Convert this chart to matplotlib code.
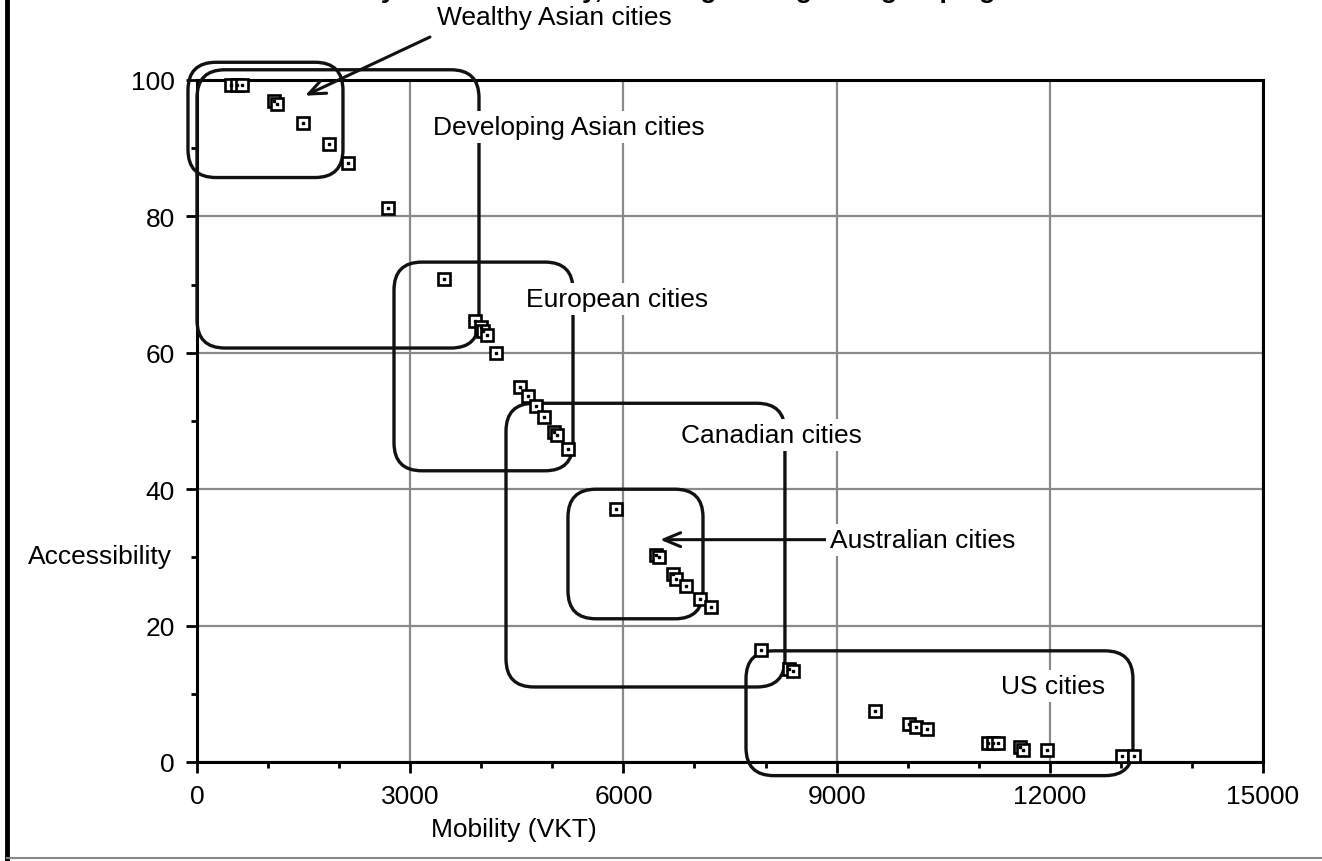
import matplotlib
matplotlib.use("Agg")
import matplotlib.pyplot as plt
from matplotlib.patches import FancyBboxPatch
from matplotlib.lines import Line2D

plt.rcParams['font.family'] = ['Liberation Sans', 'DejaVu Sans']

# data
mobility = [480, 560, 630, 1090, 1130, 1490, 1860, 2125, 2690, 3475,
            3910, 3990, 4030, 4080, 4210, 4545, 4660, 4770, 4880, 5020,
            5060, 5220, 5900, 6460, 6500, 6700, 6740, 6880, 7080, 7230,
            7940, 8330, 8390, 9540, 10020, 10120, 10270, 11130, 11200, 11270,
            11580, 11620, 11960, 13020, 13190]
accessibility = [99.2, 99.2, 99.2, 96.9, 96.5, 93.7, 90.6, 87.8, 81.2, 70.8,
                 64.7, 63.8, 63.2, 62.6, 60.0, 55.0, 53.7, 52.2, 50.6, 48.4,
                 48.0, 45.9, 37.1, 30.4, 30.0, 27.6, 26.8, 25.8, 23.9, 22.7,
                 16.4, 13.7, 13.4, 7.5, 5.6, 5.2, 4.8, 2.8, 2.8, 2.8,
                 2.2, 1.8, 1.8, 0.9, 0.9]

# region groupings: name, (x0, y0, x1, y1)
groups = ["Wealthy Asian cities", "Developing Asian cities", "European cities",
          "Canadian cities", "Australian cities", "US cities"]
group_boxes = [(-127, 85.7, 2054, 102.6),
               (0, 60.7, 3968, 101.5),
               (2772, 42.7, 5291, 73.3),
               (4348, 11.0, 8273, 52.6),
               (5220, 21.0, 7120, 40.0),
               (7725, -2.0, 13170, 16.3)]
group_label_pos = [(5023, 109.2), (5234, 93.1), (5910, 67.9),
                   (8077, 47.9), (9930, 32.6), (12045, 11.1)]

W, H = 1322, 862
fig = plt.figure(figsize=(W / 100, H / 100), dpi=100)
ax_l, ax_r, ax_t, ax_b = 197, 1263, 81, 763
ax = fig.add_axes([ax_l / W, 1 - ax_b / H, (ax_r - ax_l) / W, (ax_b - ax_t) / H])

xmin, xmax, ymin, ymax = 0, 15000, 0, 100
ax.set_xlim(xmin, xmax)
ax.set_ylim(ymin, ymax)

ax.set_xticks(range(0, 15001, 3000))
ax.set_xticks(range(0, 15001, 1000), minor=True)
ax.set_yticks(range(0, 101, 20))
ax.set_yticks(range(0, 101, 10), minor=True)
ax.tick_params(which='major', length=8, width=2, labelsize=19, pad=8)
ax.tick_params(which='minor', length=4, width=2)
ax.grid(True, which='major', color='#8a8a8a', lw=1.6)
ax.set_axisbelow(True)
for s in ax.spines.values():
    s.set_linewidth(2.2)

# rounded boxes (keep circular corners despite the axis scales)
xs = (xmax - xmin) / (ax_r - ax_l)
ys = (ymax - ymin) / (ax_b - ax_t)
aspect = ys / xs
rad = 28 * xs
for (x0, y0, x1, y1) in group_boxes:
    p = FancyBboxPatch((x0, y0), x1 - x0, y1 - y0,
                       boxstyle="round,pad=0,rounding_size=%f" % rad,
                       mutation_aspect=aspect, fill=False, ec='#111111',
                       lw=2.4, clip_on=False, zorder=3)
    ax.add_patch(p)

ax.plot(mobility, accessibility, 's', ms=9, mfc='white', mec='black',
        mew=1.9, zorder=5, clip_on=False)
ax.plot(mobility, accessibility, 's', ms=2, mfc='black', mec='black',
        zorder=6, clip_on=False)

bb = dict(boxstyle='square,pad=0.15', fc='white', ec='none')
arrow = dict(arrowstyle='->,head_length=1.2,head_width=0.5', lw=2.2,
             color='#111111', shrinkA=0, shrinkB=0)
for name, (tx, ty) in zip(groups, group_label_pos):
    if name == "Wealthy Asian cities":
        ax.text(tx, ty, name, fontsize=19, ha='center', va='center',
                clip_on=False, zorder=7)
        ax.annotate('', xy=(1520, 97.7), xytext=(3278, 106.3),
                    arrowprops=arrow, annotation_clip=False, zorder=7)
    elif name == "Australian cities":
        ax.text(8907, ty, name, fontsize=19, ha='left', va='center',
                bbox=bb, zorder=7)
        ax.annotate('', xy=(6515, ty), xytext=(8907, ty),
                    arrowprops=arrow, zorder=6)
    else:
        ax.text(tx, ty, name, fontsize=19, ha='center', va='center',
                bbox=bb, zorder=7)

fig.text(99.5 / W, 1 - 557 / H, "Accessibility", fontsize=19,
         ha='center', va='center')
fig.text(514 / W, 1 - 830 / H, "Mobility (VKT)", fontsize=19,
         ha='center', va='center')

# cut-off title at the very top (only descenders show)
fig.text(1010 / W, 1 + 2 / H, "Accessibility versus mobility, showing the regional groupings",
         fontsize=19, fontweight='bold', ha='right', va='baseline')

# page frame
fig.add_artist(Line2D([7 / W, 7 / W], [0, 1], color='black', lw=3.5))
fig.add_artist(Line2D([7 / W, 1], [1 - 859 / H, 1 - 859 / H], color='#888888', lw=1.5))

fig.savefig("out.png", dpi=100)
